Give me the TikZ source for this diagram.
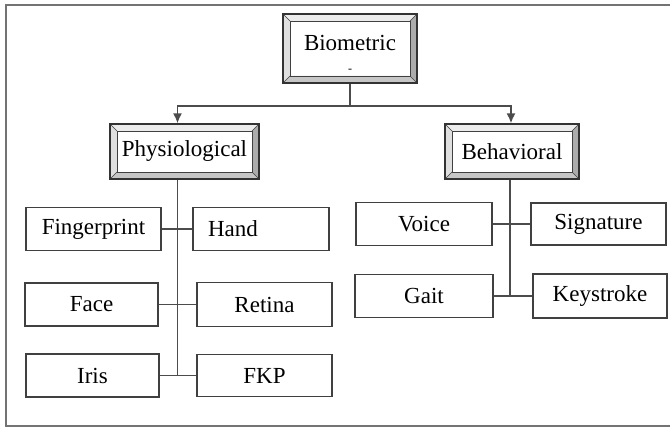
\documentclass[tikz,border=0pt]{standalone}
\usepackage{fontspec}
\setmainfont{Liberation Serif}
\usetikzlibrary{calc,arrows.meta}

\def \bw {7pt}
\tikzset{frame/.style={draw=black!55, line width=2.4pt}}
\tikzset{leaf/.style={draw=black!75, line width=1.4pt, fill=white, inner sep=0pt, minimum width=135pt, minimum height=43pt, font=\fontsize{23}{25}\selectfont}}
\tikzset{link/.style={draw=black!70, line width=1.8pt}}
\tikzset{arrow/.style={link, -{Latex[length=10pt,width=9pt]}}}
\tikzset{bevel/.style={draw=black!80, line width=1.2pt, fill=white, inner sep=0pt, minimum height=55pt, align=center, font=\fontsize{23}{25}\selectfont,
  path picture={
    \path (path picture bounding box.north west) coordinate (bnw)
          (path picture bounding box.north east) coordinate (bne)
          (path picture bounding box.south east) coordinate (bse)
          (path picture bounding box.south west) coordinate (bsw);
    \fill[gray!15] (bnw) -- (bne) -- ($(bne)+(-\bw,-\bw)$) -- ($(bnw)+(\bw,-\bw)$) -- cycle;
    \fill[gray!25] (bnw) -- (bsw) -- ($(bsw)+(\bw,\bw)$) -- ($(bnw)+(\bw,-\bw)$) -- cycle;
    \fill[gray!65] (bne) -- (bse) -- ($(bse)+(-\bw,\bw)$) -- ($(bne)+(-\bw,-\bw)$) -- cycle;
    \fill[gray!45] (bsw) -- (bse) -- ($(bse)+(-\bw,\bw)$) -- ($(bsw)+(\bw,\bw)$) -- cycle;
    \draw[black!75, line width=0.9pt] ($(bsw)+(\bw,\bw)$) rectangle ($(bne)+(-\bw,-\bw)$);
    \draw[black!75, line width=0.7pt] (bnw) -- ++(\bw,-\bw) (bne) -- ++(-\bw,-\bw)
          (bse) -- ++(-\bw,\bw) (bsw) -- ++(\bw,\bw);
  }}}

\begin{document}
\begin{tikzpicture}[x=1pt, y=-1pt]

    \useasboundingbox (0,0) rectangle (670,428);
    \draw[frame] (6,5) rectangle (676,426);

    % top level
    \node[bevel, minimum width=134pt, minimum height=69pt] (bio) at (350,48.5) {\rule{0pt}{27pt}Biometric\\[-3pt]{\fontsize{12}{12}\selectfont -}};
    \node[bevel, minimum width=149pt] (phy) at (184.5,151.5) {Physiological};
    \node[bevel, minimum width=134pt] (beh) at (512,151.5) {Behavioral};

    \coordinate (fork) at (350,106);
    \draw[link] (bio.south) -- (fork);
    \draw[arrow] (fork) -| ([xshift=-7pt]phy.north);
    \draw[arrow] (fork) -| ([xshift=-1pt]beh.north);

    % physiological
    \node[leaf] (finger) at (93.5,229) {Fingerprint};
    \node[leaf, text width=106pt, inner xsep=15pt, align=left] (hand) at (261,229) {Hand};
    \node[leaf, minimum width=133pt] (face) at (91.5,304.5) {Face};
    \node[leaf, minimum height=44pt] (retina) at (264.5,304.5) {Retina};
    \node[leaf, minimum width=133pt] (iris) at (92.5,375.5) {Iris};
    \node[leaf, minimum height=42pt] (fkp) at (264.5,375.5) {FKP};

    \draw[link] ([xshift=-7pt]phy.south) -- ([xshift=-7pt]phy.south |- iris.east);
    \draw[link] (finger) -- (hand);
    \draw[link] (face) -- (retina);
    \draw[link] (iris) -- (fkp);

    % behavioral
    \node[leaf, minimum width=136pt] (voice) at (424,224) {Voice};
    \node[leaf, minimum height=42pt] (sign) at (598.5,224) {Signature};
    \node[leaf, minimum width=138pt] (gait) at (424,296) {Gait};
    \node[leaf, minimum width=134pt, minimum height=44pt] (key) at (600,296) {Keystroke};

    \draw[link] ([xshift=-2pt]beh.south) -- ([xshift=-2pt]beh.south |- gait.east);
    \draw[link] (voice) -- (sign);
    \draw[link] (gait) -- (key);

\end{tikzpicture}
\end{document}
